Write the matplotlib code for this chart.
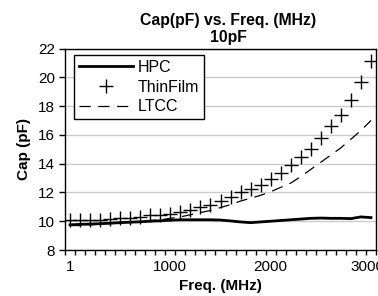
import numpy as np
import matplotlib.pyplot as plt
import matplotlib.transforms as mtransforms

plt.rcParams['font.family'] = ['Liberation Sans', 'DejaVu Sans']

# categories (MHz)
freq = [1, 100, 200, 300, 400, 500, 600, 700, 800, 900, 1000,
        1100, 1200, 1300, 1400, 1500, 1600, 1700, 1800, 1900, 2000,
        2100, 2200, 2300, 2400, 2500, 2600, 2700, 2800, 2900, 3000]
freq_labels = ['1', '1000', '2000', '3000']

# capacitance (pF)
hpc = [9.75, 9.78, 9.8, 9.83, 9.86, 9.9, 9.93, 9.96, 10.0, 10.03, 10.07,
       10.1, 10.1, 10.1, 10.1, 10.08, 10.02, 9.95, 9.9, 9.95, 10.0,
       10.05, 10.1, 10.15, 10.2, 10.22, 10.2, 10.2, 10.18, 10.3, 10.25]
thinfilm = [10.1, 10.1, 10.1, 10.1, 10.15, 10.2, 10.25, 10.3, 10.4, 10.45, 10.5,
            10.65, 10.8, 11.0, 11.15, 11.4, 11.7, 12.0, 12.25, 12.55, 12.9,
            13.35, 13.9, 14.45, 15.05, 15.8, 16.6, 17.4, 18.4, 19.7, 21.1]
ltcc = [9.7, 9.7, 9.75, 9.8, 9.85, 9.9, 9.95, 10.0, 10.05, 10.1, 10.2,
        10.3, 10.45, 10.6, 10.75, 10.95, 11.15, 11.4, 11.6, 11.8, 12.05,
        12.35, 12.65, 13.1, 13.6, 14.1, 14.6, 15.1, 15.7, 16.3, 17.0]

x = np.arange(len(freq))

fig = plt.figure(figsize=(3.78, 2.96), dpi=100)
ax = fig.add_axes([65/378, 1 - 250/296, 311/378, 201.5/296])

ax.plot(x, hpc, color='black', lw=2.0, label='HPC', zorder=3)
ax.plot(x, thinfilm, linestyle='none', marker='+', markersize=9.5, markeredgewidth=1.0,
        color='black', label='ThinFilm', zorder=4)
ax.plot(x, ltcc, color='black', lw=0.9, dashes=(9, 6), label='LTCC', zorder=3)

ax.set_xlim(-0.5, len(freq) - 0.5)
ax.set_ylim(8, 22)
ax.set_yticks(np.arange(8, 23, 2))
ax.yaxis.grid(True, color='#cccccc', lw=1)
ax.set_axisbelow(True)

ax.set_xticks([freq.index(int(l)) for l in freq_labels])
ax.set_xticklabels(freq_labels)
ax.set_xticks(np.arange(-0.5, len(freq), 1), minor=True)
ax.tick_params(axis='x', which='major', length=0, labelsize=11, pad=7)
ax.tick_params(axis='x', which='minor', length=3.5, width=1, direction='out')
ax.tick_params(axis='y', length=4, width=1, labelsize=11, pad=3)
for s in ax.spines.values():
    s.set_linewidth(1)

# last label sits at the right edge, nudge it in a little
last = ax.get_xticklabels()[-1]
last.set_transform(last.get_transform() + mtransforms.ScaledTranslation(-4/100, 0, fig.dpi_scale_trans))

ax.set_xlabel('Freq. (MHz)', fontsize=11, fontweight='bold', labelpad=4)
ax.set_ylabel('Cap (pF)', fontsize=11, fontweight='bold', labelpad=5)

fig.text(228/378, 1 - 29/296, 'Cap(pF) vs. Freq. (MHz)\n10pF', ha='center', va='center',
         fontsize=11.3, fontweight='bold', linespacing=1.1)

leg = ax.legend(loc='upper left', bbox_to_anchor=(74/378, 1 - 55/296),
                bbox_transform=fig.transFigure, fontsize=11.5, frameon=True,
                fancybox=False, edgecolor='black', framealpha=1, handlelength=3.4,
                borderpad=0.3, labelspacing=0.3, handletextpad=0.3, borderaxespad=0)
leg.get_frame().set_linewidth(1)

fig.savefig('out.png', dpi=100)
